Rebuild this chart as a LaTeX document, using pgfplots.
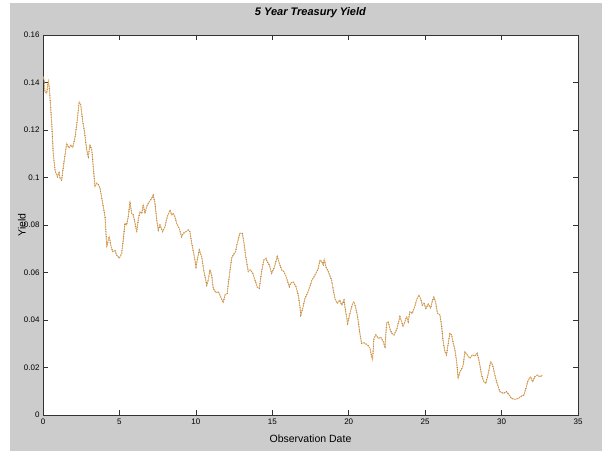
\documentclass[border=0pt]{standalone}
\usepackage{fontspec}
\setmainfont{Liberation Sans}
\usepackage{pgfplots}
\usepackage{pgfplotstable}
\pgfplotsset{compat=1.18}
\definecolor{figgray}{RGB}{204,204,204}
\definecolor{traceorange}{RGB}{242,172,80}
\pgfplotstableread{
x y
0.00 0.1427
0.07 0.1410
0.13 0.1360
0.24 0.1355
0.35 0.1408
0.41 0.1380
0.57 0.1230
0.67 0.1100
0.79 0.1030
0.94 0.1003
1.05 0.1020
1.11 0.0998
1.22 0.0990
1.33 0.1045
1.55 0.1144
1.70 0.1124
1.83 0.1137
1.94 0.1127
2.09 0.1166
2.24 0.1240
2.37 0.1319
2.47 0.1305
2.60 0.1235
2.70 0.1200
2.86 0.1116
2.96 0.1088
3.07 0.1137
3.19 0.1116
3.29 0.1045
3.40 0.0961
3.51 0.0976
3.62 0.0970
3.73 0.0955
3.84 0.0915
4.06 0.0835
4.17 0.0709
4.27 0.0737
4.34 0.0751
4.43 0.0716
4.56 0.0688
4.71 0.0692
4.82 0.0674
4.99 0.0660
5.15 0.0681
5.25 0.0737
5.36 0.0807
5.47 0.0800
5.58 0.0835
5.69 0.0898
5.80 0.0849
5.91 0.0842
6.02 0.0807
6.13 0.0772
6.23 0.0821
6.34 0.0856
6.46 0.0849
6.56 0.0884
6.67 0.0849
6.78 0.0877
6.95 0.0898
7.11 0.0912
7.21 0.0926
7.33 0.0891
7.44 0.0821
7.54 0.0779
7.65 0.0800
7.83 0.0772
7.98 0.0793
8.13 0.0835
8.31 0.0863
8.42 0.0842
8.52 0.0849
8.63 0.0835
8.74 0.0807
8.91 0.0786
9.07 0.0751
9.18 0.0765
9.35 0.0772
9.50 0.0779
9.61 0.0772
9.73 0.0723
9.88 0.0674
10.01 0.0624
10.09 0.0653
10.22 0.0695
10.38 0.0667
10.53 0.0604
10.71 0.0547
10.81 0.0568
10.92 0.0611
11.03 0.0589
11.14 0.0533
11.32 0.0515
11.47 0.0519
11.62 0.0498
11.79 0.0473
11.90 0.0505
12.05 0.0512
12.18 0.0582
12.34 0.0660
12.45 0.0674
12.60 0.0688
12.71 0.0723
12.88 0.0765
13.04 0.0765
13.15 0.0723
13.28 0.0660
13.43 0.0604
13.58 0.0611
13.72 0.0597
13.87 0.0568
14.02 0.0538
14.15 0.0533
14.30 0.0604
14.45 0.0653
14.59 0.0660
14.67 0.0646
14.80 0.0632
14.96 0.0597
15.11 0.0618
15.24 0.0646
15.32 0.0667
15.46 0.0639
15.61 0.0611
15.76 0.0604
15.94 0.0576
16.11 0.0540
16.20 0.0555
16.37 0.0561
16.55 0.0540
16.70 0.0505
16.81 0.0456
16.87 0.0421
16.99 0.0449
17.14 0.0491
17.29 0.0512
17.46 0.0540
17.59 0.0568
17.68 0.0576
17.86 0.0597
18.01 0.0618
18.12 0.0653
18.23 0.0646
18.33 0.0632
18.40 0.0656
18.51 0.0624
18.66 0.0604
18.88 0.0568
18.99 0.0526
19.10 0.0491
19.25 0.0470
19.42 0.0484
19.54 0.0463
19.69 0.0484
19.82 0.0428
19.93 0.0386
20.03 0.0414
20.14 0.0442
20.26 0.0470
20.34 0.0477
20.47 0.0449
20.58 0.0414
20.73 0.0344
20.84 0.0302
20.99 0.0304
21.13 0.0299
21.28 0.0291
21.39 0.0281
21.50 0.0246
21.56 0.0232
21.65 0.0323
21.78 0.0337
21.93 0.0323
22.09 0.0327
22.26 0.0309
22.37 0.0288
22.48 0.0386
22.58 0.0393
22.69 0.0365
22.81 0.0344
22.96 0.0337
23.13 0.0358
23.24 0.0386
23.35 0.0414
23.46 0.0393
23.56 0.0372
23.68 0.0393
23.79 0.0414
23.89 0.0393
24.00 0.0435
24.15 0.0428
24.28 0.0449
24.44 0.0484
24.59 0.0505
24.70 0.0491
24.81 0.0463
24.92 0.0470
25.05 0.0449
25.20 0.0467
25.36 0.0449
25.46 0.0477
25.57 0.0496
25.68 0.0477
25.81 0.0428
25.97 0.0421
26.08 0.0372
26.18 0.0309
26.29 0.0267
26.40 0.0253
26.51 0.0302
26.62 0.0344
26.73 0.0337
26.84 0.0302
26.95 0.0274
27.06 0.0225
27.16 0.0154
27.27 0.0182
27.38 0.0192
27.49 0.0211
27.60 0.0267
27.75 0.0253
27.93 0.0239
28.10 0.0253
28.25 0.0248
28.40 0.0260
28.54 0.0225
28.69 0.0168
28.84 0.0140
28.97 0.0133
29.12 0.0172
29.28 0.0225
29.41 0.0211
29.56 0.0168
29.71 0.0133
29.89 0.0098
30.11 0.0091
30.33 0.0098
30.50 0.0084
30.65 0.0070
30.87 0.0066
31.09 0.0070
31.31 0.0080
31.46 0.0084
31.59 0.0112
31.74 0.0147
31.90 0.0161
32.03 0.0140
32.18 0.0161
32.33 0.0168
32.51 0.0161
32.68 0.0168
}\yielddata
\begin{document}
\begin{tikzpicture}[x=1pt,y=1pt]
\fill[white] (0,0) rectangle (602,456);
\fill[figgray] (10,5) rectangle (602,453);
\begin{axis}[
  at={(43pt,41pt)}, anchor=south west,
  scale only axis, width=535pt, height=380pt,
  xmin=0, xmax=35, ymin=0, ymax=0.16,
  xtick={0,5,10,15,20,25,30,35},
  ytick={0,0.02,0.04,0.06,0.08,0.1,0.12,0.14,0.16},
  yticklabels={0,0.02,0.04,0.06,0.08,0.1,0.12,0.14,0.16},
  scaled y ticks=false,
  /pgf/number format/assume math mode=true,
  tick label style={font=\fontsize{8}{9}\selectfont},
  tick align=inside, major tick length=5pt,
  tick style={black!80, line width=0.5pt},
  axis line style={black!80, line width=0.6pt},
  axis background/.style={fill=white},
  title={\textbf{\textit{5 Year Treasury Yield}}},
  title style={font=\fontsize{11}{13}\selectfont, at={(axis description cs:0.5,1)}, anchor=base, yshift=13pt, inner sep=0pt},
  xlabel={Observation Date},
  xlabel style={font=\fontsize{10.5}{12}\selectfont, at={(axis description cs:0.5,0)}, anchor=base, yshift=-27pt, inner sep=0pt},
  ylabel={Yield},
  ylabel style={font=\fontsize{10.5}{12}\selectfont, at={(axis description cs:0,0.5)}, anchor=south, yshift=17pt, inner sep=0pt},
]
\addplot[black!85, line width=0.8pt, dash pattern=on 0.8pt off 1.6pt] table[x=x,y=y] {\yielddata};
\addplot[traceorange, line width=0.6pt] table[x=x,y=y] {\yielddata};
\end{axis}
\pgfresetboundingbox
\useasboundingbox (0,0) rectangle (602,456);
\end{tikzpicture}
\end{document}
